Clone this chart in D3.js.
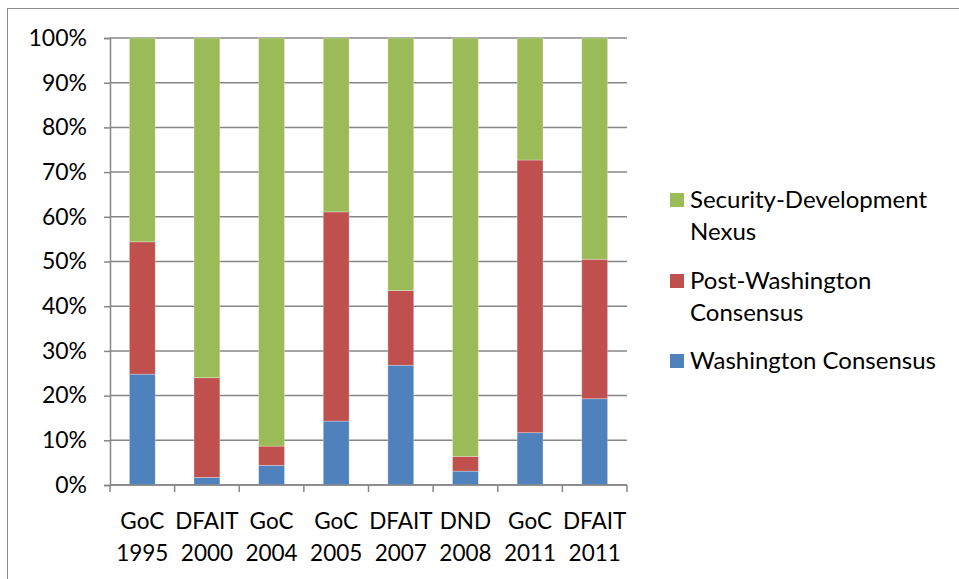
<!DOCTYPE html>
<html>
<head>
<meta charset="utf-8">
<script src="https://cdn.jsdelivr.net/npm/d3@7"></script>
<style>
  html, body { margin: 0; padding: 0; background: #fff; }
  svg { display: block; font-family: Lato, "Open Sans", sans-serif; }
</style>
</head>
<body>
<svg id="chart" width="959" height="579"></svg>
<script>
// Documents analysed, each split between three policy discourses (percent of content)
const categories = [
  ["GoC", "1995"], ["DFAIT", "2000"], ["GoC", "2004"], ["GoC", "2005"],
  ["DFAIT", "2007"], ["DND", "2008"], ["GoC", "2011"], ["DFAIT", "2011"]
];
const washington     = [24.8, 1.7, 4.4, 14.3, 26.8, 3.1, 11.7, 19.3];
const postWashington = [29.6, 22.3, 4.3, 46.8, 16.7, 3.3, 61.0, 31.2];
const securityDev    = [45.6, 76.0, 91.3, 38.9, 56.5, 93.6, 27.3, 49.5];

const seriesNames = ["Washington Consensus", "Post-Washington Consensus", "Security-Development Nexus"];
const seriesColors = ["#4F81BD", "#C0504D", "#9BBB59"];
const yTicks = [0, 10, 20, 30, 40, 50, 60, 70, 80, 90, 100];

const svg = d3.select("#chart");

// chart frame
svg.append("rect")
  .attr("x", 7.5).attr("y", 8.5)
  .attr("width", 1000).attr("height", 1000)
  .attr("fill", "none").attr("stroke", "#8c8c8c").attr("stroke-width", 1);

const plot = { left: 110, right: 627, top: 38, bottom: 485 };

const keys = categories.map(c => c.join(" "));
const x = d3.scaleBand().domain(keys).range([plot.left, plot.right]).paddingInner(0.6).paddingOuter(0.3);
const xb = d3.scaleBand().domain(keys).range([plot.left, plot.right]);
const y = d3.scaleLinear().domain([0, 100]).range([plot.bottom, plot.top]);

// gridlines
svg.append("g")
  .selectAll("line")
  .data(yTicks)
  .join("line")
  .attr("x1", plot.left).attr("x2", plot.right)
  .attr("y1", d => y(d)).attr("y2", d => y(d))
  .attr("stroke", "#868686").attr("stroke-width", 1.5);

// stacked bars
const rows = keys.map((k, i) => ({
  key: k, w: washington[i], p: postWashington[i], s: securityDev[i]
}));
const stack = d3.stack().keys(["w", "p", "s"]);
const layers = stack(rows);

svg.append("g")
  .selectAll("g")
  .data(layers)
  .join("g")
  .attr("fill", (d, i) => seriesColors[i])
  .selectAll("rect")
  .data(d => d)
  .join("rect")
  .attr("x", d => x(d.data.key))
  .attr("width", x.bandwidth())
  .attr("y", d => y(d[1]))
  .attr("height", d => y(d[0]) - y(d[1]))
  .attr("stroke", "rgba(255,255,255,0.35)")
  .attr("stroke-width", 0.8);

// y axis
const yAxis = d3.axisLeft(y)
  .tickValues(yTicks)
  .tickFormat(d => d + "%")
  .tickSize(6)
  .tickPadding(17);
const yg = svg.append("g").attr("transform", `translate(${plot.left},0)`).call(yAxis);
yg.select(".domain").attr("stroke", "#868686").attr("stroke-width", 1.5);
yg.selectAll(".tick line").attr("stroke", "#868686").attr("stroke-width", 1.5);
yg.selectAll("text").attr("font-size", 23).attr("fill", "#000").attr("font-family", "Lato, sans-serif");

// x axis with category boundaries as ticks
const xg = svg.append("g").attr("transform", `translate(0,${plot.bottom})`);
xg.append("line")
  .attr("x1", plot.left).attr("x2", plot.right)
  .attr("stroke", "#868686").attr("stroke-width", 1.5);
const bounds = keys.map(k => xb(k)).concat([plot.right]);
xg.selectAll("line.tk")
  .data(bounds)
  .join("line")
  .attr("class", "tk")
  .attr("x1", d => d).attr("x2", d => d)
  .attr("y1", 0).attr("y2", 7)
  .attr("stroke", "#868686").attr("stroke-width", 1.5);

const labels = xg.selectAll("text")
  .data(categories)
  .join("text")
  .attr("text-anchor", "middle")
  .attr("font-size", 22.5)
  .attr("fill", "#000");
labels.each(function(c, i) {
  const cx = xb(keys[i]) + xb.bandwidth() / 2;
  const t = d3.select(this);
  c.forEach((part, j) => {
    t.append("tspan").attr("x", cx).attr("y", 44 + j * 32).text(part);
  });
});

// legend, drawn top to bottom in reverse stack order
const legendItems = [
  { lines: ["Security-Development", "Nexus"], color: seriesColors[2], y: 200 },
  { lines: ["Post-Washington", "Consensus"], color: seriesColors[1], y: 281 },
  { lines: ["Washington Consensus"], color: seriesColors[0], y: 361 }
];
const lg = svg.append("g");
legendItems.forEach(item => {
  lg.append("rect")
    .attr("x", 670).attr("y", item.y - 7)
    .attr("width", 14).attr("height", 14)
    .attr("fill", item.color);
  const t = lg.append("text").attr("font-size", 24).attr("fill", "#000");
  item.lines.forEach((ln, j) => {
    t.append("tspan").attr("x", 690).attr("y", item.y + 8 + j * 32).text(ln);
  });
});
</script>
</body>
</html>
